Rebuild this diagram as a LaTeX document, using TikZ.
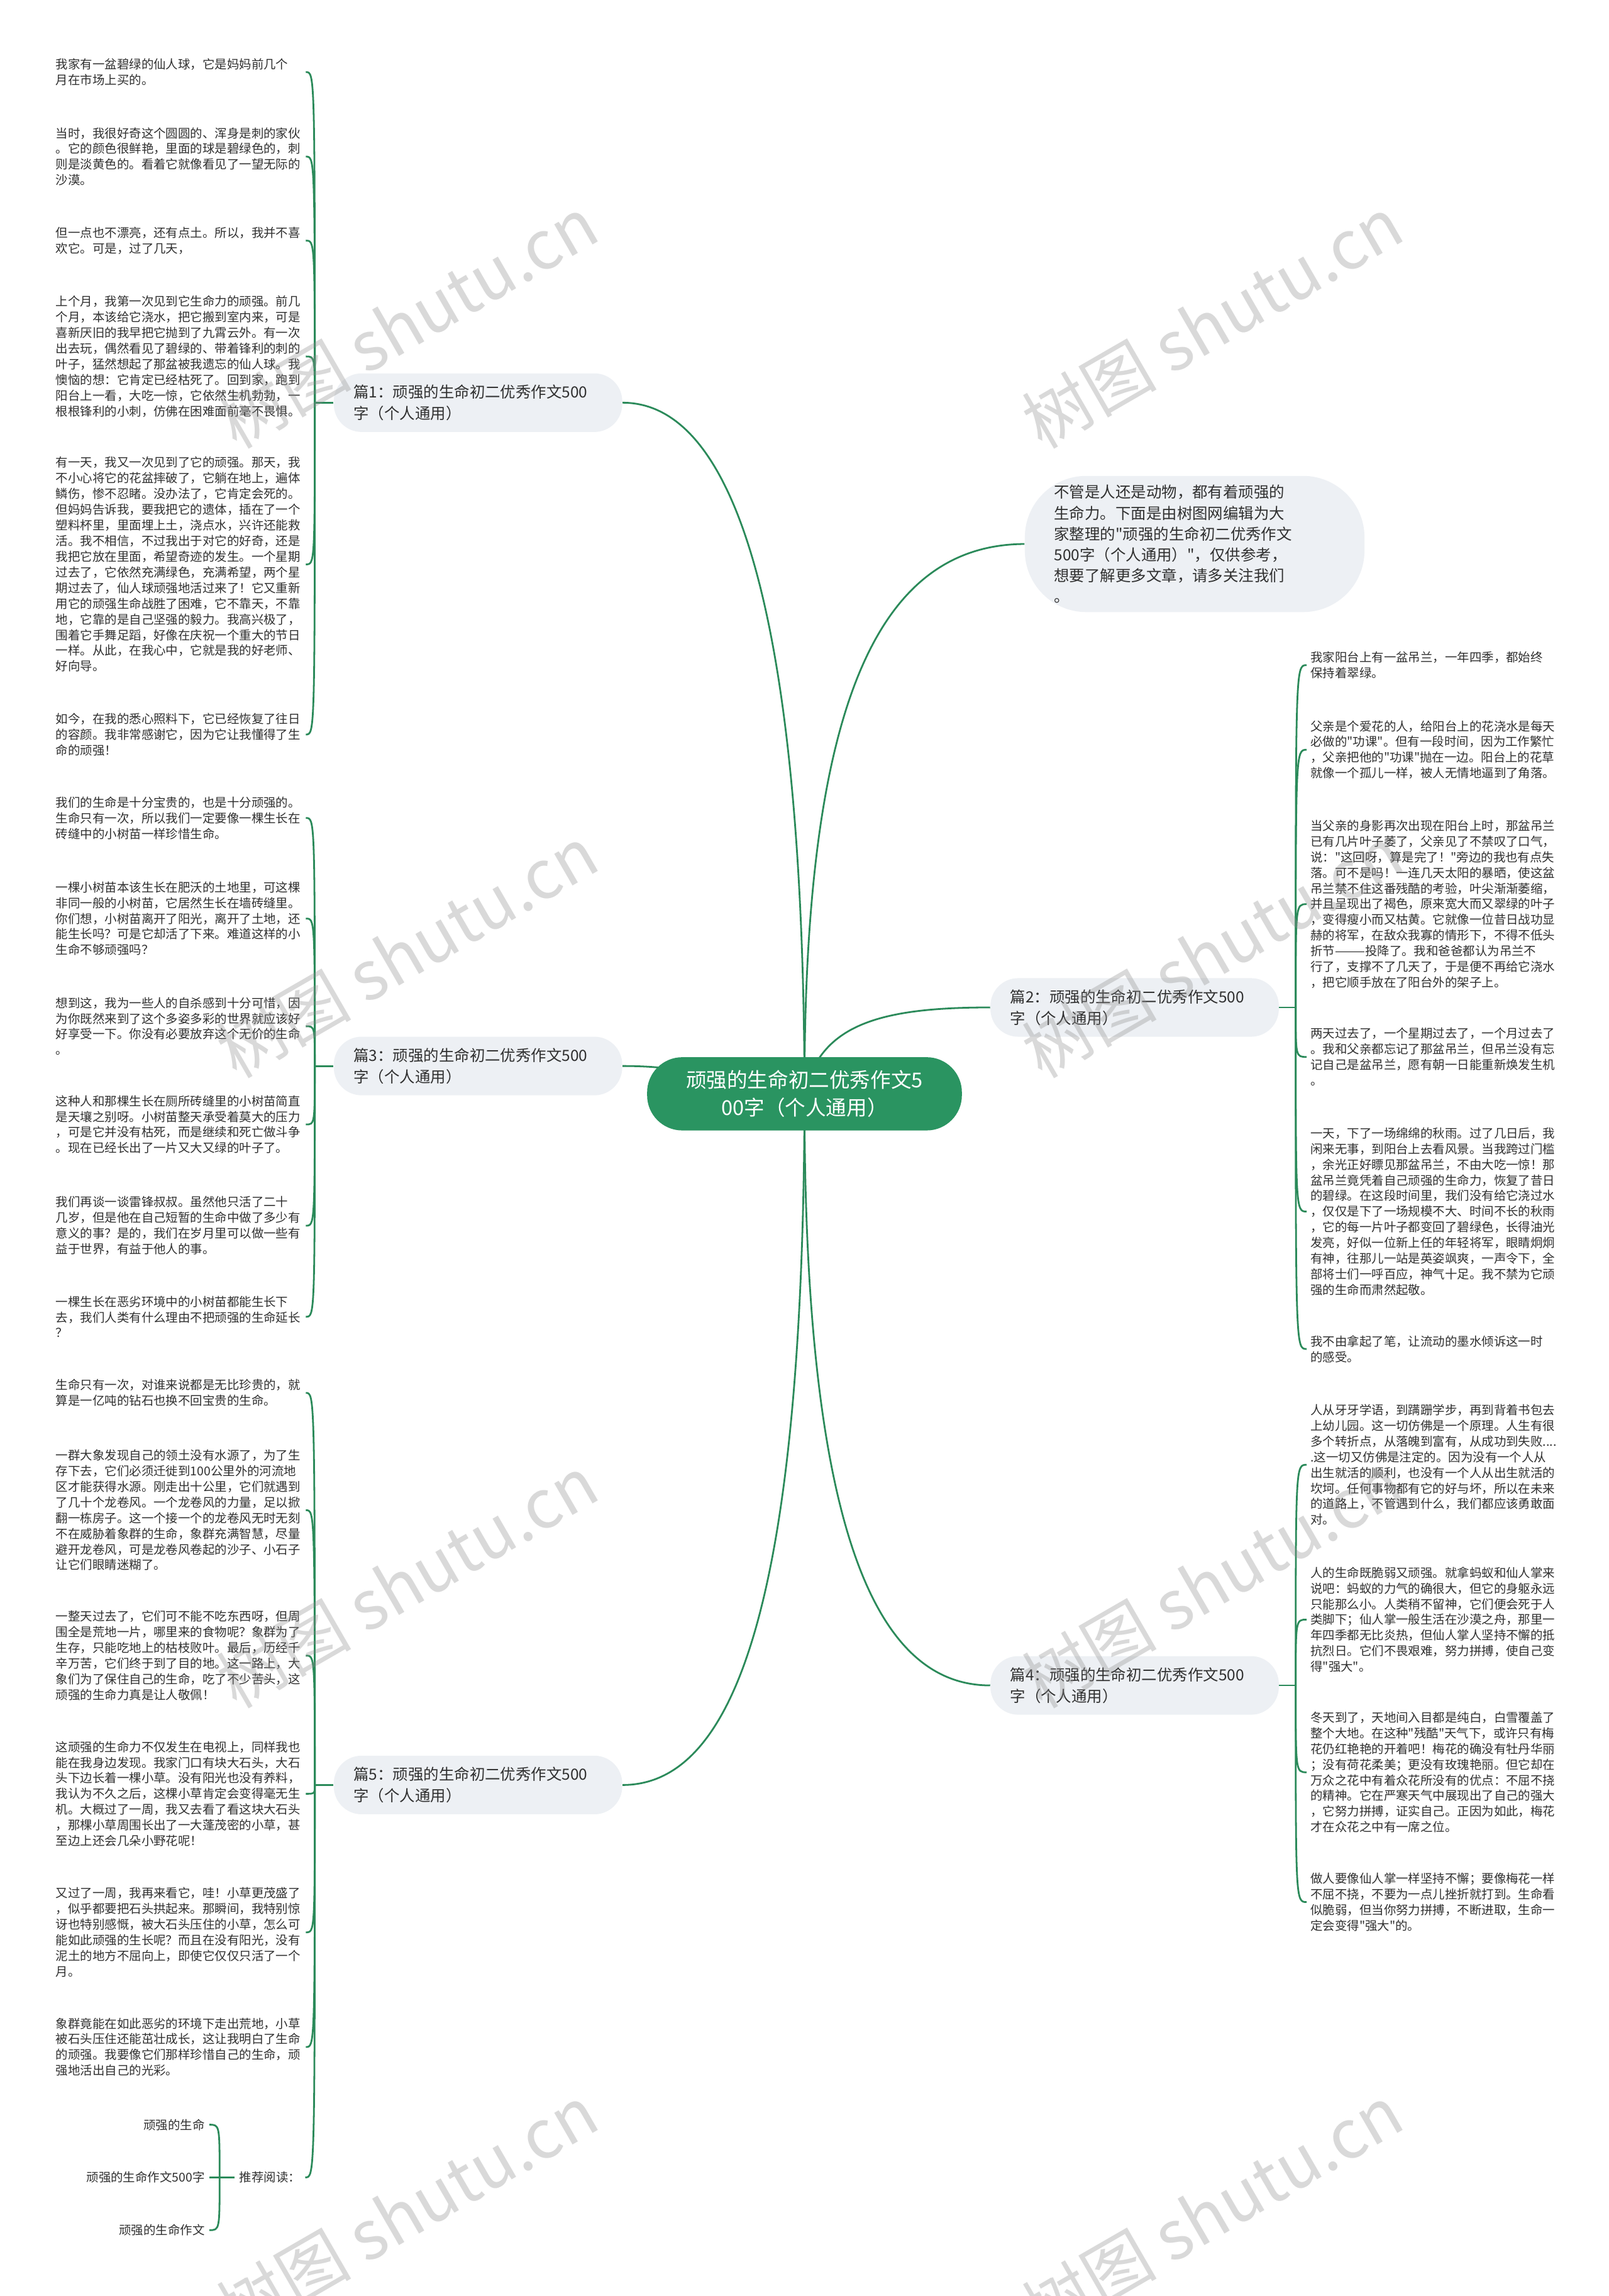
\documentclass[tikz,border=0pt]{standalone}
\usepackage{fontspec}
\setmainfont{Noto Sans CJK SC}[Ligatures=TeXOff]
\usetikzlibrary{backgrounds}
\definecolor{lcol}{HTML}{2B8A5A}
\definecolor{mgreen}{HTML}{2A9461}
\definecolor{bfill}{HTML}{EDF0F4}
\definecolor{txt}{HTML}{303030}
\tikzset{
  conn/.style={draw=lcol, line width=1.2pt},
  leaf/.style={anchor=north west, text width=168pt, align=left, inner xsep=2.5pt, inner ysep=0pt, font=\fontsize{8.35}{10.7}\selectfont, text=txt},
  item/.style={anchor=east, inner xsep=3pt, inner ysep=1pt, font=\fontsize{8.35}{10.7}\selectfont, text=txt},
  branch/.style={fill=bfill, rounded corners=19pt, minimum width=197pt, minimum height=40pt, text width=170pt, align=left, inner xsep=13.5pt, font=\fontsize{10.5}{14.5}\selectfont, text=txt},
  mainnode/.style={fill=mgreen, rounded corners=24pt, minimum width=215pt, minimum height=50pt, text width=200pt, align=center, inner xsep=7.5pt, text=white, font=\fontsize{14}{19}\selectfont},
  intro/.style={fill=bfill, rounded corners=42pt, minimum width=232pt, minimum height=93pt, text width=192pt, inner xsep=20pt, align=left, font=\fontsize{10.5}{14.2}\selectfont, text=txt},
  wm/.style={rotate=30, text=black!45, text opacity=0.33, font=\fontsize{46}{46}\selectfont}
}
\begin{document}
\begin{tikzpicture}[x=1pt,y=-1pt]
\useasboundingbox (0,0) rectangle (1099,1568);

% central and branch nodes
\node[mainnode] (c) at (549.5,747) {顽强的生命初二优秀作文5\\00字（个人通用）};
\node[intro] (intro) at (816,371.5) {不管是人还是动物，都有着顽强的\\生命力。下面是由树图网编辑为大\\家整理的"顽强的生命初二优秀作文\\500字（个人通用）"，仅供参考，\\想要了解更多文章，请多关注我们\\。};
\node[branch] (b1) at (326.5,275) {篇1：顽强的生命初二优秀作文500\\字（个人通用）};
\node[branch] (b3) at (326.5,728) {篇3：顽强的生命初二优秀作文500\\字（个人通用）};
\node[branch] (b5) at (326.5,1219) {篇5：顽强的生命初二优秀作文500\\字（个人通用）};
\node[branch] (b2) at (775,688) {篇2：顽强的生命初二优秀作文500\\字（个人通用）};
\node[branch] (b4) at (775,1151) {篇4：顽强的生命初二优秀作文500\\字（个人通用）};

% junctions
\coordinate (j1) at (215,275);
\coordinate (j3) at (215,728);
\coordinate (j5) at (215,1219);
\coordinate (j2) at (885,688);
\coordinate (j4) at (885,1151);

% ---- 篇1 leaves
\node[leaf] (l1a) at (35.5,39.8) {我家有一盆碧绿的仙人球，它是妈妈前几个\\月在市场上买的。};
\node[leaf] (l1b) at (35.5,86.8) {当时，我很好奇这个圆圆的、浑身是刺的家伙\\。它的颜色很鲜艳，里面的球是碧绿色的，刺\\则是淡黄色的。看着它就像看见了一望无际的\\沙漠。};
\node[leaf] (l1c) at (35.5,154.8) {但一点也不漂亮，还有点土。所以，我并不喜\\欢它。可是，过了几天，};
\node[leaf] (l1d) at (35.5,201.8) {上个月，我第一次见到它生命力的顽强。前几\\个月，本该给它浇水，把它搬到室内来，可是\\喜新厌旧的我早把它抛到了九霄云外。有一次\\出去玩，偶然看见了碧绿的、带着锋利的刺的\\叶子，猛然想起了那盆被我遗忘的仙人球。我\\懊恼的想：它肯定已经枯死了。回到家，跑到\\阳台上一看，大吃一惊，它依然生机勃勃，一\\根根锋利的小刺，仿佛在困难面前毫不畏惧。};
\node[leaf] (l1e) at (35.5,311.8) {有一天，我又一次见到了它的顽强。那天，我\\不小心将它的花盆摔破了，它躺在地上，遍体\\鳞伤，惨不忍睹。没办法了，它肯定会死的。\\但妈妈告诉我，要我把它的遗体，插在了一个\\塑料杯里，里面埋上土，浇点水，兴许还能救\\活。我不相信，不过我出于对它的好奇，还是\\我把它放在里面，希望奇迹的发生。一个星期\\过去了，它依然充满绿色，充满希望，两个星\\期过去了，仙人球顽强地活过来了！它又重新\\用它的顽强生命战胜了困难，它不靠天，不靠\\地，它靠的是自己坚强的毅力。我高兴极了，\\围着它手舞足蹈，好像在庆祝一个重大的节日\\一样。从此，在我心中，它就是我的好老师、\\好向导。};
\node[leaf] (l1f) at (35.5,486.8) {如今，在我的悉心照料下，它已经恢复了往日\\的容颜。我非常感谢它，因为它让我懂得了生\\命的顽强！};

% ---- 篇3 leaves
\node[leaf] (l3a) at (35.5,543.8) {我们的生命是十分宝贵的，也是十分顽强的。\\生命只有一次，所以我们一定要像一棵生长在\\砖缝中的小树苗一样珍惜生命。};
\node[leaf] (l3b) at (35.5,601.8) {一棵小树苗本该生长在肥沃的土地里，可这棵\\非同一般的小树苗，它居然生长在墙砖缝里。\\你们想，小树苗离开了阳光，离开了土地，还\\能生长吗？可是它却活了下来。难道这样的小\\生命不够顽强吗？};
\node[leaf] (l3c) at (35.5,680.8) {想到这，我为一些人的自杀感到十分可惜，因\\为你既然来到了这个多姿多彩的世界就应该好\\好享受一下。你没有必要放弃这个无价的生命\\。};
\node[leaf] (l3d) at (35.5,747.8) {这种人和那棵生长在厕所砖缝里的小树苗简直\\是天壤之别呀。小树苗整天承受着莫大的压力\\，可是它并没有枯死，而是继续和死亡做斗争\\。现在已经长出了一片又大又绿的叶子了。};
\node[leaf] (l3e) at (35.5,816.8) {我们再谈一谈雷锋叔叔。虽然他只活了二十\\几岁，但是他在自己短暂的生命中做了多少有\\意义的事？是的，我们在岁月里可以做一些有\\益于世界，有益于他人的事。};
\node[leaf] (l3f) at (35.5,884.8) {一棵生长在恶劣环境中的小树苗都能生长下\\去，我们人类有什么理由不把顽强的生命延长\\？};

% ---- 篇5 leaves
\node[leaf] (l5a) at (35.5,941.8) {生命只有一次，对谁来说都是无比珍贵的，就\\算是一亿吨的钻石也换不回宝贵的生命。};
\node[leaf] (l5b) at (35.5,989.8) {一群大象发现自己的领土没有水源了，为了生\\存下去，它们必须迁徙到100公里外的河流地\\区才能获得水源。刚走出十公里，它们就遇到\\了几十个龙卷风。一个龙卷风的力量，足以掀\\翻一栋房子。这一个接一个的龙卷风无时无刻\\不在威胁着象群的生命，象群充满智慧，尽量\\避开龙卷风，可是龙卷风卷起的沙子、小石子\\让它们眼睛迷糊了。};
\node[leaf] (l5c) at (35.5,1099.8) {一整天过去了，它们可不能不吃东西呀，但周\\围全是荒地一片，哪里来的食物呢？象群为了\\生存，只能吃地上的枯枝败叶。最后，历经千\\辛万苦，它们终于到了目的地。这一路上，大\\象们为了保住自己的生命，吃了不少苦头，这\\顽强的生命力真是让人敬佩！};
\node[leaf] (l5d) at (35.5,1188.8) {这顽强的生命力不仅发生在电视上，同样我也\\能在我身边发现。我家门口有块大石头，大石\\头下边长着一棵小草。没有阳光也没有养料，\\我认为不久之后，这棵小草肯定会变得毫无生\\机。大概过了一周，我又去看了看这块大石头\\，那棵小草周围长出了一大蓬茂密的小草，甚\\至边上还会几朵小野花呢！};
\node[leaf] (l5e) at (35.5,1288.8) {又过了一周，我再来看它，哇！小草更茂盛了\\，似乎都要把石头拱起来。那瞬间，我特别惊\\讶也特别感慨，被大石头压住的小草，怎么可\\能如此顽强的生长呢？而且在没有阳光，没有\\泥土的地方不屈向上，即使它仅仅只活了一个\\月。};
\node[leaf] (l5f) at (35.5,1377.8) {象群竟能在如此恶劣的环境下走出荒地，小草\\被石头压住还能茁壮成长，这让我明白了生命\\的顽强。我要像它们那样珍惜自己的生命，顽\\强地活出自己的光彩。};
\node[item] (rec) at (208.5,1487) {推荐阅读：};
\coordinate (jr) at (150,1487);
\node[item] (r1) at (143,1451) {顽强的生命};
\node[item] (r2) at (143,1487) {顽强的生命作文500字};
\node[item] (r3) at (143,1523) {顽强的生命作文};

% ---- 篇2 leaves
\node[leaf] (l2a) at (892.5,444.8) {我家阳台上有一盆吊兰，一年四季，都始终\\保持着翠绿。};
\node[leaf] (l2b) at (892.5,491.8) {父亲是个爱花的人，给阳台上的花浇水是每天\\必做的"功课"。但有一段时间，因为工作繁忙\\，父亲把他的"功课"抛在一边。阳台上的花草\\就像一个孤儿一样，被人无情地逼到了角落。};
\node[leaf] (l2c) at (892.5,559.8) {当父亲的身影再次出现在阳台上时，那盆吊兰\\已有几片叶子萎了，父亲见了不禁叹了口气，\\说："这回呀，算是完了！"旁边的我也有点失\\落。可不是吗！一连几天太阳的暴晒，使这盆\\吊兰禁不住这番残酷的考验，叶尖渐渐萎缩，\\并且呈现出了褐色，原来宽大而又翠绿的叶子\\，变得瘦小而又枯黄。它就像一位昔日战功显\\赫的将军，在敌众我寡的情形下，不得不低头\\折节———投降了。我和爸爸都认为吊兰不\\行了，支撑不了几天了，于是便不再给它浇水\\，把它顺手放在了阳台外的架子上。};
\node[leaf] (l2d) at (892.5,701.8) {两天过去了，一个星期过去了，一个月过去了\\。我和父亲都忘记了那盆吊兰，但吊兰没有忘\\记自己是盆吊兰，愿有朝一日能重新焕发生机\\。};
\node[leaf] (l2e) at (892.5,769.8) {一天，下了一场绵绵的秋雨。过了几日后，我\\闲来无事，到阳台上去看风景。当我跨过门槛\\，余光正好瞟见那盆吊兰，不由大吃一惊！那\\盆吊兰竟凭着自己顽强的生命力，恢复了昔日\\的碧绿。在这段时间里，我们没有给它浇过水\\，仅仅是下了一场规模不大、时间不长的秋雨\\，它的每一片叶子都变回了碧绿色，长得油光\\发亮，好似一位新上任的年轻将军，眼睛炯炯\\有神，往那儿一站是英姿飒爽，一声令下，全\\部将士们一呼百应，神气十足。我不禁为它顽\\强的生命而肃然起敬。};
\node[leaf] (l2f) at (892.5,911.8) {我不由拿起了笔，让流动的墨水倾诉这一时\\的感受。};

% ---- 篇4 leaves
\node[leaf] (l4a) at (892.5,958.8) {人从牙牙学语，到蹒跚学步，再到背着书包去\\上幼儿园。这一切仿佛是一个原理。人生有很\\多个转折点，从落魄到富有，从成功到失败....\\.这一切又仿佛是注定的。因为没有一个人从\\出生就活的顺利，也没有一个人从出生就活的\\坎坷。任何事物都有它的好与坏，所以在未来\\的道路上，不管遇到什么，我们都应该勇敢面\\对。};
\node[leaf] (l4b) at (892.5,1069.8) {人的生命既脆弱又顽强。就拿蚂蚁和仙人掌来\\说吧：蚂蚁的力气的确很大，但它的身躯永远\\只能那么小。人类稍不留神，它们便会死于人\\类脚下；仙人掌一般生活在沙漠之舟，那里一\\年四季都无比炎热，但仙人掌人坚持不懈的抵\\抗烈日。它们不畏艰难，努力拼搏，使自己变\\得"强大"。};
\node[leaf] (l4c) at (892.5,1168.8) {冬天到了，天地间入目都是纯白，白雪覆盖了\\整个大地。在这种"残酷"天气下，或许只有梅\\花仍红艳艳的开着吧！梅花的确没有牡丹华丽\\；没有荷花柔美；更没有玫瑰艳丽。但它却在\\万众之花中有着众花所没有的优点：不屈不挠\\的精神。它在严寒天气中展现出了自己的强大\\，它努力拼搏，证实自己。正因为如此，梅花\\才在众花之中有一席之位。};
\node[leaf] (l4d) at (892.5,1278.8) {做人要像仙人掌一样坚持不懈；要像梅花一样\\不屈不挠，不要为一点儿挫折就打到。生命看\\似脆弱，但当你努力拼搏，不断进取，生命一\\定会变得"强大"的。};

\begin{scope}[on background layer]
\fill[white] (0,0) rectangle (1099,1568);
% centre connectors
\draw[conn] (c.center) .. controls (549,450) and (510,275) .. (b1.east);
\draw[conn] (c.center) .. controls (549,480) and (600,372) .. (intro.west);
\draw[conn] (c.center) .. controls (560,700) and (600,688) .. (b2.west);
\draw[conn] (c.center) .. controls (480,740) and (480,728) .. (b3.east);
\draw[conn] (c.center) .. controls (549,1050) and (600,1151) .. (b4.west);
\draw[conn] (c.center) .. controls (549,1100) and (500,1219) .. (b5.east);
% branch stubs
\draw[conn] (b1.west) -- (j1);
\draw[conn] (b3.west) -- (j3);
\draw[conn] (b5.west) -- (j5);
\draw[conn] (b2.east) -- (j2);
\draw[conn] (b4.east) -- (j4);
% leaves
\foreach \l in {l1a,l1b,l1c,l1d,l1e,l1f}
  \draw[conn] (j1) .. controls (j1 |- \l.east) and (j1 |- \l.east) .. (\l.east);
\foreach \l in {l3a,l3b,l3c,l3d,l3e,l3f}
  \draw[conn] (j3) .. controls (j3 |- \l.east) and (j3 |- \l.east) .. (\l.east);
\foreach \l in {l5a,l5b,l5c,l5d,l5e,l5f,rec}
  \draw[conn] (j5) .. controls (j5 |- \l.east) and (j5 |- \l.east) .. (\l.east);
\foreach \l in {l2a,l2b,l2c,l2d,l2e,l2f}
  \draw[conn] (j2) .. controls (j2 |- \l.west) and (j2 |- \l.west) .. (\l.west);
\foreach \l in {l4a,l4b,l4c,l4d}
  \draw[conn] (j4) .. controls (j4 |- \l.west) and (j4 |- \l.west) .. (\l.west);
\draw[conn] (rec.west) -- (jr);
\foreach \l in {r1,r2,r3}
  \draw[conn] (jr) .. controls (jr |- \l.east) and (jr |- \l.east) .. (\l.east);
\end{scope}

% watermarks
\foreach \wx/\wy/\wn in {278/220/wa,828/220/wb,278/650/wc,828/650/wd,278/1080/we,828/1080/wf,278/1510/wg,828/1510/wh}
  \node[wm] (\wn) at (\wx,\wy) {树图 shutu.cn};
\end{tikzpicture}
\end{document}
